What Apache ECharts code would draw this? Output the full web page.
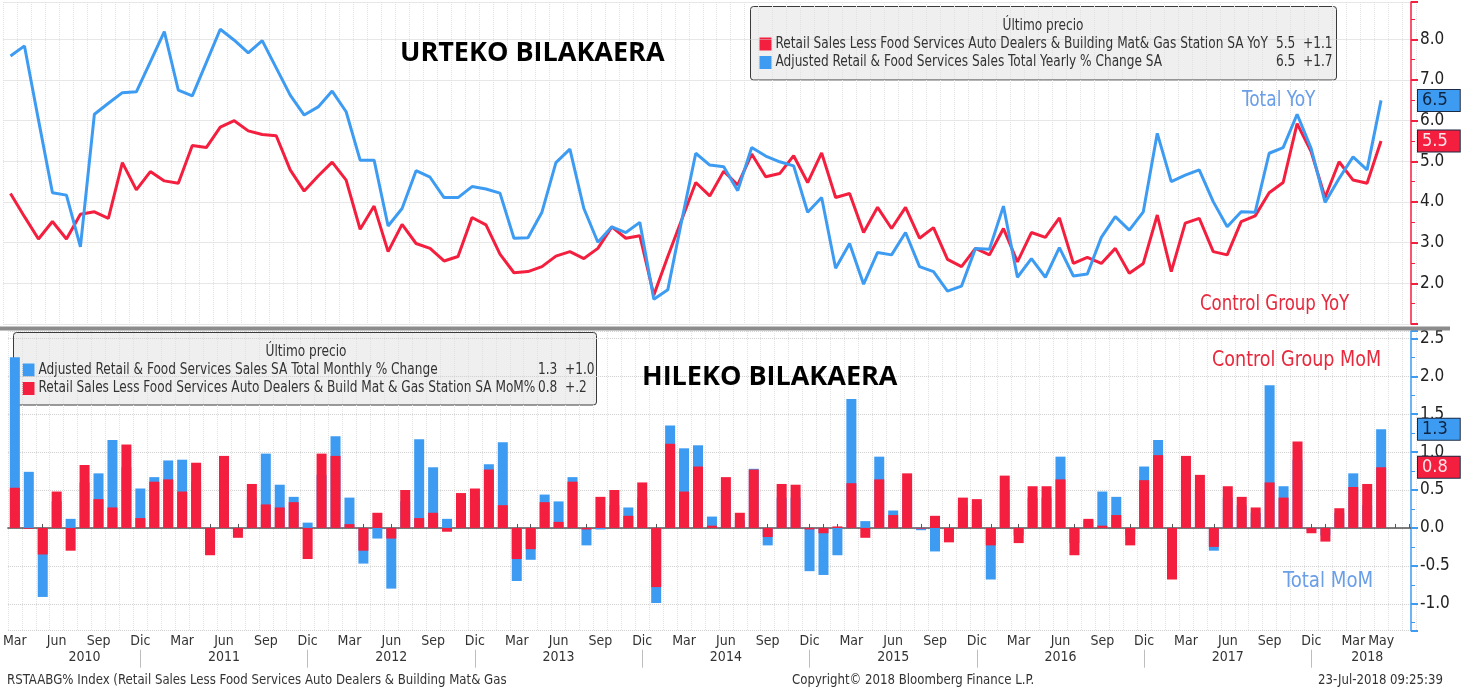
<!DOCTYPE html>
<html>
<head>
<meta charset="utf-8">
<title>Retail Sales</title>
<script src="https://cdn.jsdelivr.net/npm/echarts@6/dist/echarts.min.js"></script>
<style>
html,body{margin:0;padding:0;background:#fff;}
#chart{width:1461px;height:691px;}
</style>
</head>
<body>
<div id="chart"></div>
<script>
// categorias: meses Mar 2010 .. May 2018 (+2 vacios al final)
var monthNames = ['Ene','Feb','Mar','Abr','May','Jun','Jul','Ago','Sep','Oct','Nov','Dic'];
var labelMonths = ['Mar','Jun','Sep','Dic'];
var yearLabelIdx = [5, 15, 27, 39, 51, 63, 75, 87, 97];

// interanual (%)
var ctlYoY = [4.21, 3.64, 3.09, 3.52, 3.09, 3.70, 3.76, 3.60, 4.97, 4.30,
	4.75, 4.52, 4.46, 5.39, 5.34, 5.84, 6.00, 5.75, 5.66, 5.63,
	4.79, 4.27, 4.64, 4.98, 4.54, 3.33, 3.90, 2.78, 3.45, 2.98,
	2.86, 2.55, 2.66, 3.62, 3.44, 2.72, 2.26, 2.29, 2.41, 2.67,
	2.78, 2.61, 2.86, 3.39, 3.11, 3.17, 1.71, 2.66, 3.57, 4.48,
	4.15, 4.76, 4.42, 5.18, 4.62, 4.70, 5.14, 4.48, 5.21, 4.11,
	4.21, 3.25, 3.87, 3.35, 3.87, 3.11, 3.37, 2.59, 2.41, 2.86,
	2.70, 3.35, 2.53, 3.25, 3.13, 3.61, 2.49, 2.64, 2.49, 2.86,
	2.25, 2.49, 3.68, 2.29, 3.48, 3.60, 2.78, 2.70, 3.52, 3.66,
	4.23, 4.48, 5.93, 5.24, 4.11, 4.99, 4.54, 4.46, 5.50];
var totYoY = [7.59, 7.84, 6.02, 4.23, 4.17, 2.90, 6.16, 6.43, 6.69, 6.71,
	7.45, 8.19, 6.75, 6.61, 7.43, 8.25, 7.98, 7.67, 7.97, 7.30,
	6.63, 6.14, 6.34, 6.73, 6.22, 5.03, 5.03, 3.41, 3.84, 4.77,
	4.61, 4.11, 4.11, 4.38, 4.32, 4.22, 3.11, 3.12, 3.75, 4.97,
	5.30, 3.84, 3.01, 3.39, 3.25, 3.50, 1.61, 1.84, 3.55, 5.20,
	4.91, 4.87, 4.28, 5.34, 5.13, 4.99, 4.89, 3.75, 4.11, 2.37,
	2.98, 1.98, 2.76, 2.70, 3.25, 2.41, 2.29, 1.81, 1.93, 2.86,
	2.84, 3.90, 2.15, 2.61, 2.15, 2.88, 2.18, 2.23, 3.13, 3.64,
	3.31, 3.76, 5.69, 4.50, 4.66, 4.79, 4.01, 3.39, 3.76, 3.75,
	5.20, 5.34, 6.16, 5.32, 3.99, 4.58, 5.11, 4.79, 6.50];

// mensual (%)
var totMoM = [2.25, 0.74, -0.91, 0.35, 0.12, 0.60, 0.72, 1.16, 0.80, 0.52,
	0.67, 0.89, 0.90, 0.60, -0.20, 0.60, -0.05, 0.40, 0.98, 0.57,
	0.41, 0.07, 0.70, 1.21, 0.40, -0.47, -0.14, -0.80, 0.35, 1.17,
	0.80, 0.12, 0.30, 0.40, 0.84, 1.13, -0.70, -0.42, 0.44, 0.35,
	0.67, -0.23, -0.02, 0.30, 0.27, 0.40, -0.99, 1.35, 1.05, 1.09,
	0.15, 0.50, 0.10, 0.78, -0.23, 0.40, 0.40, -0.57, -0.62, -0.36,
	1.70, 0.09, 0.94, 0.23, 0.50, -0.03, -0.31, -0.10, 0.30, 0.30,
	-0.68, 0.50, -0.10, 0.40, 0.40, 0.94, -0.20, 0.10, 0.48, 0.41,
	-0.10, 0.81, 1.16, -0.50, 0.70, 0.50, -0.30, 0.40, 0.30, 0.20,
	1.88, 0.55, 0.90, -0.03, -0.10, 0.20, 0.72, 0.30, 1.30];
var ctlMoM = [0.53, -0.01, -0.35, 0.48, -0.30, 0.83, 0.38, 0.27, 1.10, 0.13,
	0.61, 0.64, 0.48, 0.86, -0.36, 0.95, -0.13, 0.58, 0.31, 0.27,
	0.34, -0.41, 0.98, 0.95, 0.05, -0.30, 0.20, -0.14, 0.50, 0.13,
	0.20, -0.05, 0.46, 0.52, 0.77, 0.30, -0.41, -0.28, 0.34, 0.08,
	0.61, -0.02, 0.41, 0.50, 0.16, 0.60, -0.78, 1.11, 0.48, 0.81,
	0.03, 0.67, 0.20, 0.77, -0.12, 0.58, 0.57, -0.02, -0.07, 0.02,
	0.59, -0.13, 0.64, 0.17, 0.72, -0.01, 0.16, -0.19, 0.40, 0.38,
	-0.23, 0.69, -0.20, 0.55, 0.55, 0.64, -0.36, 0.12, 0.03, 0.17,
	-0.23, 0.63, 0.96, -0.68, 0.95, 0.70, -0.25, 0.55, 0.41, 0.27,
	0.60, 0.40, 1.14, -0.07, -0.18, 0.26, 0.54, 0.58, 0.80];

var RED = '#f41e3e';
var BLUE = '#3d9cf2';
var FONT = "'DejaVu Sans Condensed','Liberation Sans Narrow',sans-serif";

var cats = [];
for (var i = 0; i < ctlYoY.length + 2; i++) {
	var m = (2 + i) % 12;
	var y = 2010 + Math.floor((2 + i) / 12);
	cats.push(monthNames[m] + ' ' + y);
}
var nData = ctlYoY.length;

function last(arr){
	return arr[arr.length - 1];
}

function tag(value, bg, txt){
	return {
		silent: true,
		symbol: 'none',
		animation: false,
		lineStyle: { color: 'rgba(0,0,0,0)', width: 0 },
		label: {
			show: true,
			position: 'end',
			distance: 2,
			formatter: function(p){ return Number(p.value).toFixed(1); },
			backgroundColor: bg,
			borderColor: '#1b2b44',
			borderWidth: 1,
			padding: [2, 12, 1, 4],
			color: txt,
			fontSize: 18,
			fontFamily: FONT
		},
		data: [{ yAxis: value }]
	};
}

// texto condensado (el de Bloomberg es estrecho)
function txt(text, x, y, size, color, sx, align){
	return { type: 'text', z: 100, x: x, y: y, scaleX: sx, scaleY: 1,
		style: { text: text, align: align || 'left', verticalAlign: 'middle', fontSize: size, fontFamily: FONT, fill: color } };
}

function legendBox(x, y, w, h, titleX, rows){
	var els = [
		{ type: 'rect', shape: { x: x, y: y, width: w, height: h, r: 3 },
		  style: { fill: '#efefef', stroke: '#3a3a3a', lineWidth: 1 } },
		txt('Último precio', titleX, y + 20, 15, '#333', 0.9, 'center')
	];
	rows.forEach(function(r, k){
		var cy = y + 37.5 + k * 18.5;
		els.push({ type: 'rect', shape: { x: x + 9, y: cy - 6.5, width: 12, height: 13 }, style: { fill: r.color } });
		els.push(txt(r.name, x + 25, cy, 15, '#333', 0.9));
		els.push(txt(r.value, r.vx, cy, 15, '#333', 0.9));
		els.push(txt(r.chg, r.vx + 27, cy, 15, '#333', 0.9));
	});
	return { type: 'group', z: 100, children: els };
}

function title(text, x, y){
	return { type: 'text', z: 100, x: x, y: y, style: { text: text, verticalAlign: 'middle', fill: '#000',
		fontSize: 27, fontWeight: 'bold', fontFamily: "'Open Sans',sans-serif" } };
}

var chart = echarts.init(document.getElementById('chart'));
var option = {
	animation: false,
	backgroundColor: '#fff',
	grid: [
		{ left: 3.5, right: 45, top: 2, height: 322 },
		{ left: 3.5, right: 45, top: 331, height: 299.7 }
	],
	xAxis: [
		{
			gridIndex: 0, type: 'category', data: cats,
			axisLine: { show: false }, axisTick: { show: false }, axisLabel: { show: false },
			splitLine: { show: true, interval: 0, lineStyle: { color: '#e2e2e2', type: 'dotted' } }
		},
		{
			gridIndex: 1, type: 'category', data: cats,
			axisLine: { lineStyle: { color: '#555', width: 1.5 } },
			axisTick: { show: true, inside: true, length: 4, interval: 0, alignWithLabel: true, lineStyle: { color: '#555' } },
			axisLabel: {
				interval: function(i, v){
					var m = v.split(' ')[0];
					return i < nData && (labelMonths.indexOf(m) >= 0 || i === nData - 1);
				},
				formatter: function(v){ return v.split(' ')[0]; },
				margin: 4, fontSize: 14, color: '#333', fontFamily: FONT
			},
			splitLine: { show: true, interval: 0, lineStyle: { color: '#e2e2e2', type: 'dotted' } }
		},
		{
			gridIndex: 1, type: 'category', data: cats, position: 'bottom', offset: 19,
			axisLine: { show: false },
			axisTick: { show: true, length: 18, alignWithLabel: true,
				interval: function(i, v){ return v.split(' ')[0] === 'Dic'; },
				lineStyle: { color: '#bdbdbd' } },
			axisLabel: {
				interval: function(i){ return yearLabelIdx.indexOf(i) >= 0; },
				formatter: function(v){ return v.split(' ')[1]; },
				margin: 1, fontSize: 14, color: '#333', fontFamily: FONT
			}
		}
	],
	yAxis: [
		{
			gridIndex: 0, type: 'value', position: 'right', offset: -5,
			min: 1, max: 8.92, interval: 1,
			axisLine: { show: true, lineStyle: { color: RED, width: 1.5 } },
			axisTick: { show: true, length: 7, lineStyle: { color: RED, width: 2 } },
			minorTick: { show: true, splitNumber: 2, length: 4, lineStyle: { color: RED } },
			axisLabel: { showMinLabel: false, showMaxLabel: false, margin: 9, fontSize: 17, color: '#222', fontFamily: FONT,
				formatter: function(v){ return v.toFixed(1); } },
			splitLine: { lineStyle: { color: '#cfcfcf', type: 'dotted' } }
		},
		{
			gridIndex: 1, type: 'value', position: 'right', offset: -5,
			min: -1.355, max: 2.597, splitNumber: 8,
			axisLine: { show: true, lineStyle: { color: BLUE, width: 1.5 } },
			axisTick: { show: true, length: 7, lineStyle: { color: BLUE, width: 2 } },
			minorTick: { show: true, splitNumber: 2, length: 4, lineStyle: { color: BLUE } },
			axisLabel: { showMinLabel: false, showMaxLabel: false, margin: 9, fontSize: 17, color: '#222', fontFamily: FONT,
				formatter: function(v){ return v.toFixed(1); } },
			splitLine: { lineStyle: { color: '#cfcfcf', type: 'dotted' } }
		}
	],
	series: [
		{
			name: 'Control Group YoY', type: 'line', xAxisIndex: 0, yAxisIndex: 0, data: ctlYoY,
			symbol: 'none', lineStyle: { color: RED, width: 3 }, itemStyle: { color: RED },
			markLine: tag(last(ctlYoY), RED, '#ffe4ea')
		},
		{
			name: 'Total YoY', type: 'line', xAxisIndex: 0, yAxisIndex: 0, data: totYoY,
			symbol: 'none', lineStyle: { color: BLUE, width: 3 }, itemStyle: { color: BLUE },
			markLine: tag(last(totYoY), BLUE, '#0d2440')
		},
		{
			name: 'Total MoM', type: 'bar', xAxisIndex: 1, yAxisIndex: 1, data: totMoM,
			barWidth: 10, itemStyle: { color: BLUE },
			markLine: tag(last(totMoM), BLUE, '#0d2440')
		},
		{
			name: 'Control Group MoM', type: 'bar', xAxisIndex: 1, yAxisIndex: 1, data: ctlMoM,
			barWidth: 10, barGap: '-100%', itemStyle: { color: RED },
			markLine: tag(last(ctlMoM), RED, '#ffe4ea')
		}
	],
	graphic: [
		{ type: 'rect', z: 90, shape: { x: 0, y: 326.5, width: 1450, height: 4 }, style: { fill: '#8c8c8c' } },
		legendBox(750.5, 6.5, 586, 73.5, 1043, [
			{ color: RED, name: 'Retail Sales Less Food Services Auto Dealers & Building Mat& Gas Station SA YoY', value: last(ctlYoY).toFixed(1), chg: '+1.1', vx: 1276 },
			{ color: BLUE, name: 'Adjusted Retail & Food Services Sales Total Yearly % Change SA', value: last(totYoY).toFixed(1), chg: '+1.7', vx: 1276 }
		]),
		legendBox(13.5, 332.5, 583, 72.5, 306, [
			{ color: BLUE, name: 'Adjusted Retail & Food Services Sales SA Total Monthly % Change', value: last(totMoM).toFixed(1), chg: '+1.0', vx: 538 },
			{ color: RED, name: 'Retail Sales Less Food Services Auto Dealers & Build Mat & Gas Station SA MoM%', value: last(ctlMoM).toFixed(1), chg: '+.2', vx: 538 }
		]),
		title('URTEKO BILAKAERA', 400, 53),
		title('HILEKO BILAKAERA', 642, 377),
		txt('Total YoY', 1242, 101, 21, '#6a9ee6', 0.9),
		txt('Control Group YoY', 1200, 305, 21, '#e8283c', 0.88),
		txt('Control Group MoM', 1212, 361, 21, '#e8283c', 0.93),
		txt('Total MoM', 1283, 582, 21, '#6a9ee6', 0.96),
		txt('RSTAABG% Index (Retail Sales Less Food Services Auto Dealers & Building Mat& Gas', 7, 680, 14, '#333', 0.935),
		txt('Copyright© 2018 Bloomberg Finance L.P.', 792, 680, 14, '#333', 0.935),
		txt('23-Jul-2018 09:25:39', 1318, 680, 14, '#333', 0.935)
	]
};
chart.setOption(option);
</script>
</body>
</html>
